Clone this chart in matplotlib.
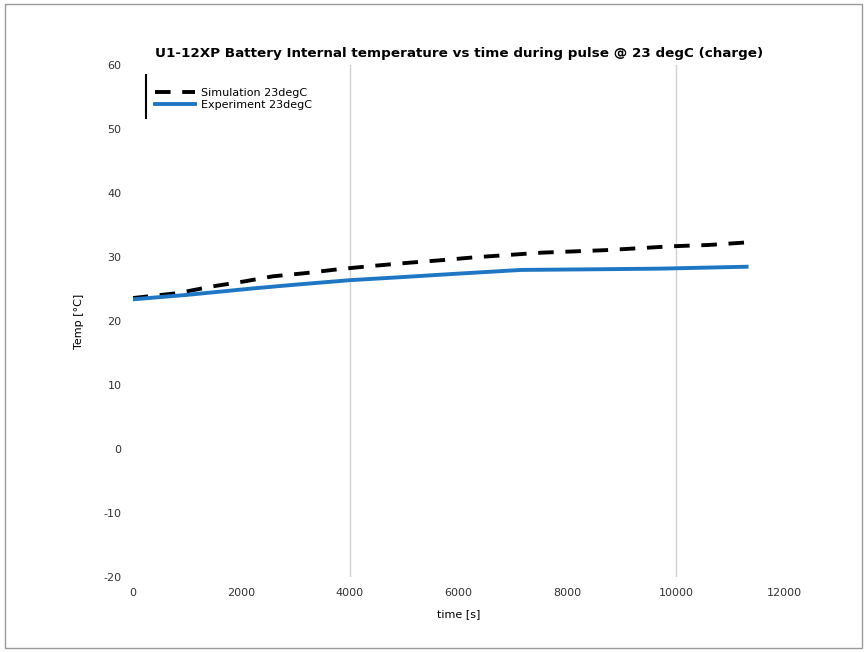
import matplotlib.pyplot as plt
import numpy as np

plt.rcParams['axes.unicode_minus'] = False

# values
t_sim = [0, 850, 1450, 2050, 2580, 3180, 3780, 4380, 5050, 5650, 6330, 6850,
         7530, 8130, 8730, 9330, 9930, 10600, 11300]
T_sim = [23.6, 24.4, 25.4, 26.2, 27.0, 27.5, 28.1, 28.6, 29.1, 29.5, 30.0, 30.3,
         30.7, 30.9, 31.1, 31.4, 31.7, 31.9, 32.3]

t_exp = [0, 1000, 2200, 3000, 4000, 5000, 5950, 7150, 8500, 9700, 11300]
T_exp = [23.4, 24.1, 25.1, 25.7, 26.4, 26.9, 27.4, 28.0, 28.1, 28.2, 28.5]

x_ticks = [0, 2000, 4000, 6000, 8000, 10000, 12000]
y_ticks = [-20, -10, 0, 10, 20, 30, 40, 50, 60]
marker_times = [4000, 10000]

fig = plt.figure(figsize=(8.67, 6.52), dpi=100)
ax = fig.add_axes([0.153, 0.115, 0.752, 0.785])

for m in marker_times:
    ax.axvline(m, color='#d0d0d0', lw=1, zorder=0)

ax.plot(t_sim, T_sim, color='black', lw=2.8, dashes=(4, 3), label='Simulation 23degC')
ax.plot(t_exp, T_exp, color='#1f77c4', lw=2.8, label='Experiment 23degC')

ax.set_xlim(0, 12000)
ax.set_ylim(-20, 60)
ax.set_xticks(x_ticks)
ax.set_yticks(y_ticks)
ax.tick_params(length=0, labelsize=8, colors='#333333', pad=8)
for s in ax.spines.values():
    s.set_visible(False)

ax.set_title('U1-12XP Battery Internal temperature vs time during pulse @ 23 degC (charge)',
             fontsize=9.7, fontweight='bold', pad=6)
ax.set_xlabel('time [s]', fontsize=8, labelpad=8)
ax.set_ylabel('Temp [°C]', fontsize=8, labelpad=14)

leg = ax.legend(loc='upper left', frameon=False, fontsize=8, handlelength=3.6,
                labelspacing=0.25, handletextpad=0.5, borderaxespad=0,
                bbox_to_anchor=(0.028, 0.965))
ax.plot([0.021, 0.021], [0.896, 0.98], transform=ax.transAxes, color='black', lw=1.5)

# thin frame around the whole figure
fig.patches.append(plt.Rectangle((0.006, 0.006), 0.988, 0.988, transform=fig.transFigure,
                                 fill=False, edgecolor='#999999', lw=1))

fig.savefig('out.png', dpi=100)
